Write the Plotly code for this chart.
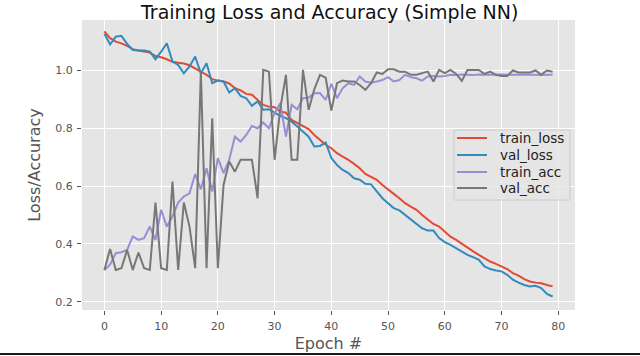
import plotly.graph_objects as go

epochs = list(range(80))

train_loss = [1.135, 1.112, 1.100, 1.094, 1.085, 1.074, 1.069, 1.065, 1.062, 1.050,
              1.046, 1.039, 1.030, 1.027, 1.024, 1.018, 1.008, 0.996, 0.985, 0.970,
              0.965, 0.962, 0.955, 0.939, 0.931, 0.919, 0.916, 0.898, 0.881, 0.875,
              0.873, 0.858, 0.854, 0.829, 0.818, 0.808, 0.797, 0.777, 0.760, 0.743,
              0.731, 0.714, 0.702, 0.691, 0.677, 0.662, 0.642, 0.633, 0.622, 0.604,
              0.587, 0.573, 0.558, 0.541, 0.529, 0.518, 0.500, 0.483, 0.469, 0.460,
              0.443, 0.425, 0.414, 0.400, 0.385, 0.374, 0.362, 0.351, 0.339, 0.331,
              0.322, 0.313, 0.299, 0.290, 0.278, 0.270, 0.266, 0.264, 0.258, 0.253]

val_loss = [1.127, 1.090, 1.117, 1.120, 1.092, 1.071, 1.069, 1.069, 1.065, 1.039,
            1.065, 1.094, 1.031, 1.019, 0.990, 1.014, 1.048, 0.990, 1.025, 0.956,
            0.965, 0.962, 0.924, 0.939, 0.912, 0.904, 0.878, 0.893, 0.864, 0.866,
            0.854, 0.843, 0.835, 0.823, 0.806, 0.789, 0.771, 0.737, 0.739, 0.751,
            0.697, 0.673, 0.656, 0.645, 0.627, 0.622, 0.608, 0.606, 0.581, 0.558,
            0.541, 0.524, 0.516, 0.500, 0.486, 0.469, 0.454, 0.446, 0.446, 0.420,
            0.406, 0.397, 0.385, 0.374, 0.362, 0.354, 0.345, 0.322, 0.313, 0.308,
            0.305, 0.293, 0.276, 0.266, 0.258, 0.253, 0.255, 0.247, 0.227, 0.218]

train_acc = [0.310, 0.328, 0.368, 0.371, 0.379, 0.426, 0.414, 0.420, 0.460, 0.414,
             0.518, 0.460, 0.495, 0.543, 0.564, 0.575, 0.642, 0.589, 0.662, 0.581,
             0.697, 0.645, 0.691, 0.771, 0.754, 0.777, 0.808, 0.800, 0.820, 0.800,
             0.852, 0.887, 0.771, 0.881, 0.866, 0.904, 0.906, 0.921, 0.922, 0.898,
             0.954, 0.904, 0.939, 0.956, 0.950, 0.979, 0.962, 0.958, 0.962, 0.967,
             0.977, 0.962, 0.967, 0.985, 0.977, 0.973, 0.965, 0.979, 0.981, 0.979,
             0.981, 0.985, 0.984, 0.986, 0.985, 0.984, 0.986, 0.985, 0.984, 0.985,
             0.986, 0.985, 0.984, 0.985, 0.986, 0.985, 0.984, 0.984, 0.985, 0.985]

val_acc = [0.310, 0.382, 0.310, 0.316, 0.379, 0.310, 0.370, 0.316, 0.310, 0.543,
           0.316, 0.310, 0.616, 0.310, 0.543, 0.460, 0.316, 0.996, 0.316, 0.835,
           0.316, 0.604, 0.685, 0.650, 0.691, 0.691, 0.691, 0.558, 1.002, 0.996,
           0.691, 0.869, 0.985, 0.691, 0.691, 1.002, 0.864, 0.935, 0.985, 0.975,
           0.861, 0.956, 0.965, 0.962, 0.962, 0.950, 0.933, 0.956, 0.993, 0.988,
           1.004, 1.004, 0.996, 0.996, 0.985, 0.985, 0.991, 0.996, 0.962, 1.002,
           0.991, 1.002, 0.988, 0.964, 1.002, 1.002, 1.002, 0.988, 0.996, 0.985,
           0.981, 0.981, 1.000, 0.993, 0.993, 0.993, 1.000, 0.985, 1.000, 0.996]

x_ticks = [0, 10, 20, 30, 40, 50, 60, 70, 80]
y_ticks = [0.2, 0.4, 0.6, 0.8, 1.0]
y_tick_labels = ["0.2", "0.4", "0.6", "0.8", "1.0"]

series_names = ["train_loss", "val_loss", "train_acc", "val_acc"]
series_values = [train_loss, val_loss, train_acc, val_acc]
series_colors = ["#E24A33", "#348ABD", "#988ED5", "#777777"]

FONT = "DejaVu Sans"

# plot area: x 82..575, y 20..310 px
L, R, T, B = 82, 65, 20, 46
W, H = 640, 356
pw, ph = W - L - R, H - T - B


def px_x(px):
    return (px - L) / pw


def px_y(py):
    return (H - B - py) / ph


fig = go.Figure()
for name, vals, color in zip(series_names, series_values, series_colors):
    fig.add_trace(go.Scatter(x=epochs, y=vals, mode="lines", name=name,
                             line=dict(color=color, width=2), showlegend=False))

# legend box (matplotlib style), drawn in paper coordinates
shapes = [dict(
    type="rect", xref="paper", yref="paper",
    x0=px_x(454), x1=px_x(570), y0=px_y(200), y1=px_y(130),
    fillcolor="rgba(229,229,229,0.8)", line=dict(color="#CCCCCC", width=1), layer="above",
)]
annotations = []
row_y = [138, 155, 172, 188]
for name, color, ry in zip(series_names, series_colors, row_y):
    shapes.append(dict(type="line", xref="paper", yref="paper",
                       x0=px_x(457), x1=px_x(487), y0=px_y(ry), y1=px_y(ry),
                       line=dict(color=color, width=2), layer="above"))
    annotations.append(dict(text=name, xref="paper", yref="paper", x=px_x(498), y=px_y(ry),
                            xanchor="left", yanchor="middle", showarrow=False,
                            font=dict(family=FONT, size=13.5, color="#222222")))

annotations.append(dict(
    text="Training Loss and Accuracy (Simple NN)", xref="paper", yref="paper",
    x=0.5, y=px_y(11.5), xanchor="center", yanchor="middle", showarrow=False,
    font=dict(family=FONT, size=19, color="#111111"),
))

# bottom border line of the figure
shapes.append(dict(type="line", xref="paper", yref="paper",
                   x0=px_x(0), x1=px_x(640), y0=px_y(354), y1=px_y(354),
                   line=dict(color="#1A1A1A", width=2)))

fig.update_layout(
    width=W, height=H, autosize=False,
    margin=dict(l=L, r=R, t=T, b=B, autoexpand=False),
    paper_bgcolor="white",
    plot_bgcolor="#E5E5E5",
    font=dict(family=FONT, color="#555555", size=11),
    showlegend=False,
    xaxis=dict(
        range=[-3.95, 82.95], tickvals=x_ticks, showgrid=True, gridcolor="white",
        gridwidth=1.3, zeroline=False, ticks="outside", ticklen=4, tickcolor="#555555",
        tickfont=dict(size=11, color="#555555"), showline=False, ticklabelstandoff=2,
        automargin=False,
        title=dict(text="Epoch #", font=dict(size=16, color="#555555"), standoff=5),
    ),
    yaxis=dict(
        range=[0.1713, 1.1747], tickvals=y_ticks, ticktext=y_tick_labels,
        showgrid=True, gridcolor="white", gridwidth=1.3, zeroline=False,
        ticks="outside", ticklen=4, tickcolor="#555555",
        tickfont=dict(size=11, color="#555555"), showline=False, ticklabelstandoff=2,
        automargin=False,
        title=dict(text="Loss/Accuracy", font=dict(size=16, color="#555555"), standoff=10),
    ),
    annotations=annotations,
    shapes=shapes,
)

fig.write_html(
    "out.html",
    config={"displayModeBar": False, "responsive": False},
    default_width="640px",
    default_height="356px",
    post_script=(
        "document.documentElement.style.margin='0px';"
        "document.body.style.margin='0px';"
        "document.body.style.padding='0px';"
        "document.body.style.overflow='hidden';"
    ),
)
